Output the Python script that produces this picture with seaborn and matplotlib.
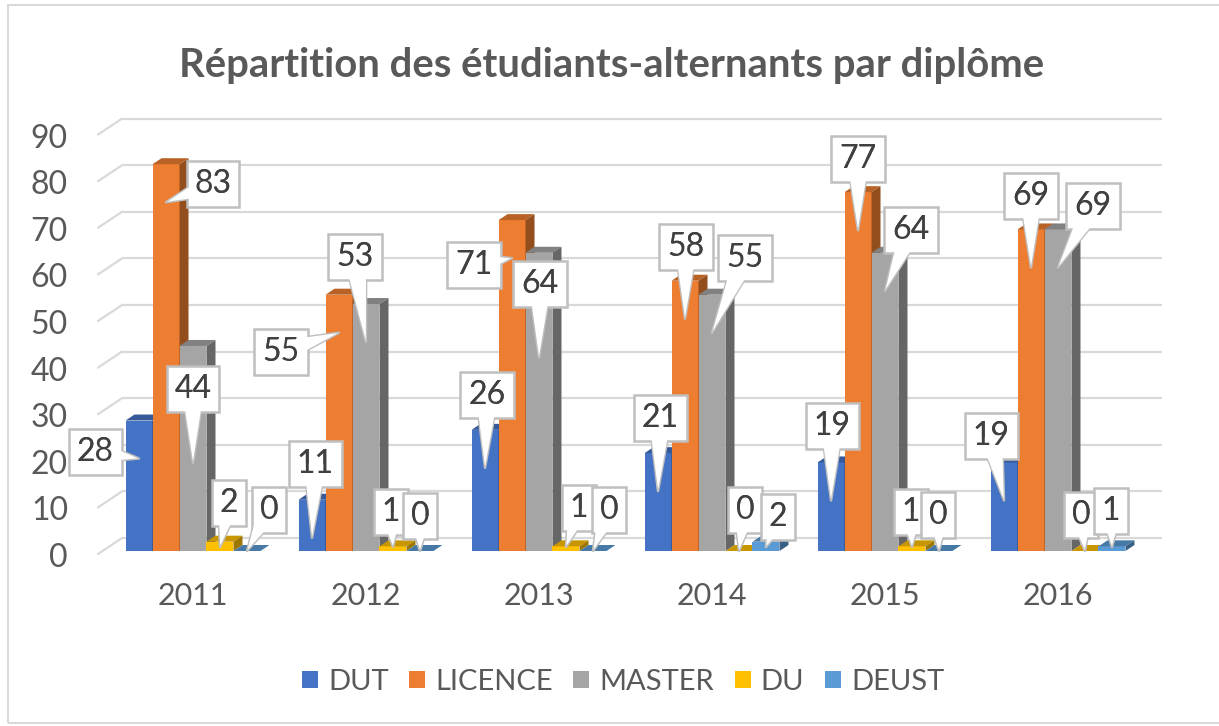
import numpy as np
import pandas as pd
import matplotlib
matplotlib.use("Agg")
import matplotlib.pyplot as plt
import matplotlib.transforms as mtransforms
from matplotlib.patches import Polygon, Patch, Rectangle
import seaborn as sns

# ---------------- data ----------------
years = ["2011", "2012", "2013", "2014", "2015", "2016"]
series = ["DUT", "LICENCE", "MASTER", "DU", "DEUST"]
dut = [28, 11, 26, 21, 19, 19]
licence = [83, 55, 71, 58, 77, 69]
master = [44, 53, 64, 55, 64, 69]
du = [2, 1, 1, 0, 1, 0]
deust = [0, 0, 0, 2, 0, 1]
yticks = [0, 10, 20, 30, 40, 50, 60, 70, 80, 90]
title = "Répartition des étudiants-alternants par diplôme"

# ---------------- style ----------------
colors = ["#4472C4", "#ED7D31", "#A5A5A5", "#FFC000", "#5B9BD5"]
# callout box offsets (pixels, relative to bar top centre; +y up), per year, per series
label_offsets = [
    [(-44, -31), (47, -20), (0, -43), (9, 39), (22, 41)],
    [(3, 36), (-58, -57), (-11, 47), (-2, 34), (0, 35)],
    [(2, 35), (-38, -45), (1, -31), (13, 38), (16, 41)],
    [(2, 35), (1, 34), (33, 37), (6, 41), (12, 25)],
    [(1, 36), (0, 33), (26, 23), (-1, 34), (-1, 36)],
    [(-13, 26), (0, 33), (35, 23), (-4, 36), (-1, 35)],
]
NUM_FS = 23
TEXT_GRAY = "#595959"
LABEL_GRAY = "#404040"
GRID = "#D9D9D9"

sns.set_style("white")
plt.rcParams["font.family"] = ["Lato", "DejaVu Sans"]

W, H, DPI = 1219, 726, 100
fig = plt.figure(figsize=(W / DPI, H / DPI), dpi=DPI)

PX_PER_UNIT = 4.66
ax_left_px, ax_right_px, base_px = 122, 1162, 551
ax = fig.add_axes([ax_left_px / W, (H - base_px) / H,
                   (ax_right_px - ax_left_px) / W, 90 * PX_PER_UNIT / H])

df = pd.DataFrame({
    "year": np.repeat(years, len(series)),
    "diplome": series * len(years),
    "value": np.array([dut, licence, master, du, deust]).T.ravel(),
})

sns.barplot(data=df, x="year", y="value", hue="diplome", order=years,
            hue_order=series, palette=colors, saturation=1, width=0.78,
            legend=False, ax=ax, linewidth=0, errorbar=None)

group_px = 173.0
ax.set_xlim((ax_left_px - 193) / group_px, (ax_right_px - 193) / group_px)
ax.set_ylim(0, 90)
for s in ax.spines.values():
    s.set_visible(False)
ax.set_ylabel("")
ax.set_xlabel("")
ax.set_yticks([])
ax.tick_params(axis="x", length=0, pad=22, labelsize=22, labelcolor=TEXT_GRAY)

# depth of the pseudo-3D bars
ddx = 9 / group_px
ddy = 6 / PX_PER_UNIT


def shade(c, f):
    r, g, b = matplotlib.colors.to_rgb(c)
    return (r * f, g * f, b * f)


values = [dut, licence, master, du, deust]
wedge = "wedge,tail_width=0.7,shrink_factor=0.5"
for j, cont in enumerate(ax.containers):
    for i, p in enumerate(cont.patches):
        x0, w, h = p.get_x(), p.get_width(), p.get_height()
        z = 3 + j * 0.1
        p.set_zorder(z)
        top = Polygon([(x0, h), (x0 + w, h), (x0 + w + ddx, h + ddy), (x0 + ddx, h + ddy)],
                      closed=True, fc=shade(colors[j], 0.78), ec="none", zorder=z + 0.02)
        side = Polygon([(x0 + w, 0), (x0 + w + ddx, ddy), (x0 + w + ddx, h + ddy), (x0 + w, h)],
                       closed=True, fc=shade(colors[j], 0.62), ec="none", zorder=z + 0.03)
        ax.add_patch(top)
        ax.add_patch(side)

        # callout
        ox, oy = label_offsets[i][j]
        h_px = h * PX_PER_UNIT
        drop = max(min(38.0, h_px - 4), 0.0)
        tip_up = h_px - drop
        box_bottom = h_px + oy - 24
        if oy < 0 and abs(ox) < 30 and box_bottom < tip_up + 30:
            tip_up = box_bottom - 50
        drop = h_px - tip_up
        cx = x0 + w / 2
        tip = (cx, tip_up / PX_PER_UNIT)
        off = (ox, oy + drop)
        txt = str(int(values[j][i]))
        zz = 10 + i * 0.5 + j * 0.08
        ax.annotate(txt, xy=tip, xytext=off, textcoords="offset pixels",
                    ha="center", va="center", fontsize=NUM_FS, color=LABEL_GRAY,
                    bbox=dict(boxstyle="square,pad=0.25", fc="white", ec="#BFBFBF", lw=1.8),
                    arrowprops=dict(arrowstyle=wedge, fc="white", ec="#BFBFBF", lw=1.8,
                                    patchA=None, shrinkA=0, shrinkB=0),
                    zorder=zz, annotation_clip=False)
        ax.annotate("", xy=tip, xytext=off, textcoords="offset pixels",
                    fontsize=NUM_FS,
                    arrowprops=dict(arrowstyle=wedge, fc="white", ec="none", lw=0,
                                    patchA=None, shrinkA=0, shrinkB=1),
                    zorder=zz + 0.02, annotation_clip=False)
        ax.annotate(txt, xy=tip, xytext=off, textcoords="offset pixels",
                    ha="center", va="center", fontsize=NUM_FS, color=LABEL_GRAY,
                    zorder=zz + 0.04, annotation_clip=False)

# back-wall gridlines with left side wall slant, and y labels
blend = mtransforms.blended_transform_factory(ax.transAxes, ax.transData)


def px_off(dx, dy):
    return mtransforms.ScaledTranslation(dx / DPI, dy / DPI, fig.dpi_scale_trans)


for v in yticks:
    ax.plot([0, 1], [v, v], transform=blend + px_off(0, 13), color=GRID,
            lw=1.6, zorder=1, clip_on=False, solid_capstyle="butt")
    ax.annotate("", xy=(0, v), xycoords=blend + px_off(0, 13),
                xytext=(0, v), textcoords=blend + px_off(-24, -3),
                arrowprops=dict(arrowstyle="-", color=GRID, lw=1.6,
                                shrinkA=0, shrinkB=0),
                annotation_clip=False, zorder=1)
    ax.text(0, v, str(v), transform=blend + px_off(-54, -7), ha="right", va="center",
            fontsize=NUM_FS, color=TEXT_GRAY)

# title
t = fig.text(612 / W, (H - 65) / H, title, ha="center", va="center",
             fontsize=24, fontweight="bold", color=TEXT_GRAY)
fig.canvas.draw()
tw = t.get_window_extent().width
t.set_fontsize(24 * 865 / tw)

# legend
handles = [Patch(facecolor=c, edgecolor="none") for c in colors]
fig.legend(handles, series, loc="center", bbox_to_anchor=(623 / W, (H - 682) / H),
           ncol=5, frameon=False, fontsize=21, handlelength=0.55, handleheight=0.55,
           handletextpad=0.35, columnspacing=0.7, labelcolor=TEXT_GRAY)

# chart border
fig.patches.append(Rectangle((8 / W, 3 / H), (W + 20) / W, (H - 8) / H,
                             transform=fig.transFigure, fill=False,
                             ec=GRID, lw=1.5, zorder=0))

fig.savefig("out.png", dpi=DPI)
